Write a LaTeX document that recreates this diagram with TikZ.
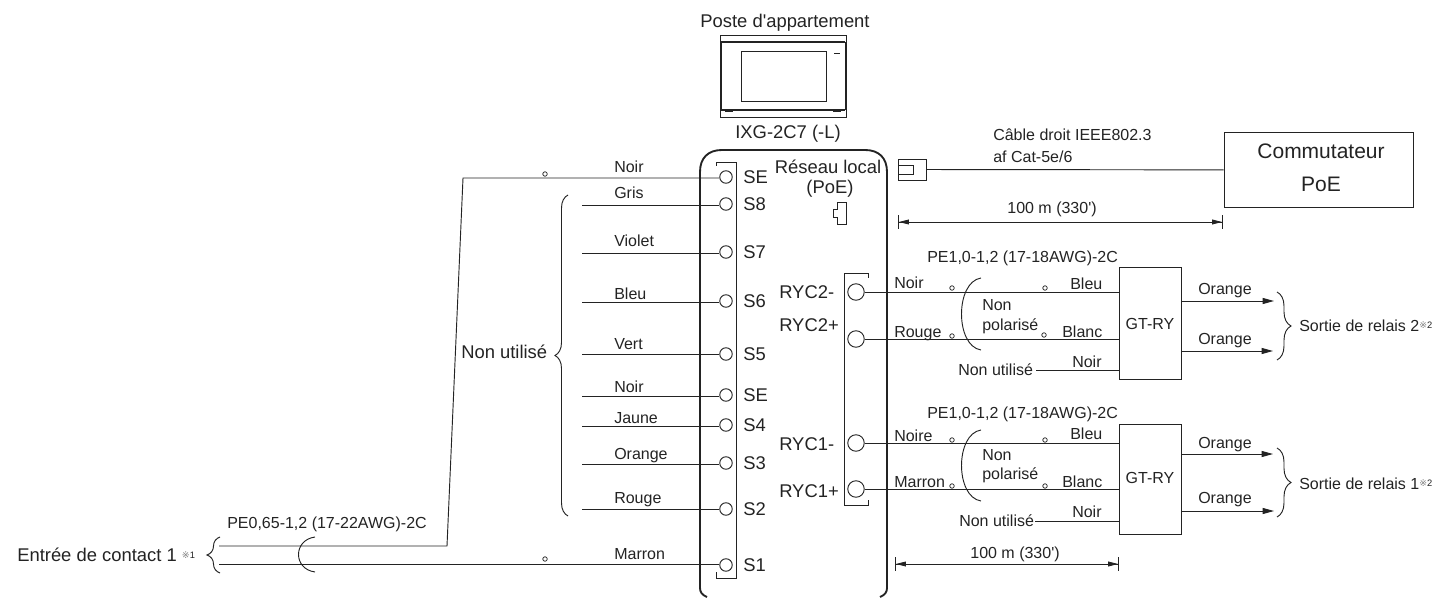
\documentclass[tikz,border=0pt]{standalone}
\usepackage{fontspec}
\setmainfont{Liberation Sans}[Ligatures=TeXOff]
\newfontfamily\markfont{DejaVu Sans}
\usetikzlibrary{arrows.meta, decorations.pathreplacing}
\definecolor{wireink}{RGB}{35, 35, 35}
\definecolor{textink}{RGB}{35, 35, 35}
\newcommand{\noteref}[1]{\raisebox{2.5pt}{\fontsize{7}{8}\selectfont{\markfont\textcolor{gray}{※}}#1}}

\begin{document}
\begin{tikzpicture}[
    x=0.75pt, y=-0.75pt,
    wire/.style={draw=wireink, line width=0.7pt},
    lab/.style={font=\fontsize{12}{14}\selectfont, text=textink, inner sep=0pt, anchor=west, text height=8.6pt, text depth=0pt},
    biglab/.style={font=\fontsize{13.8}{16}\selectfont, text=textink, inner sep=0pt, anchor=west, text height=9.9pt, text depth=0pt},
    midlab/.style={lab, anchor=center},
    bigmid/.style={biglab, anchor=center},
    term/.style={circle, draw=wireink, line width=0.7pt, minimum size=12.5*0.75pt, inner sep=0pt},
    bigterm/.style={term, minimum size=16.5*0.75pt},
    dot/.style={circle, draw=wireink, line width=0.55pt, minimum size=4.5*0.75pt, inner sep=0pt},
    relaybox/.style={rectangle, draw=wireink, line width=0.7pt, minimum width=62*0.75pt, inner sep=0pt},
    bracegroup/.style={draw=wireink, line width=0.7pt, decorate, decoration={brace, amplitude=#1}},
    dimline/.style={{Bar[width=10pt]Stealth[length=7.5pt,width=3.6pt,inset=0pt]}-{Stealth[length=7.5pt,width=3.6pt,inset=0pt]Bar[width=10pt]}, draw=wireink, line width=0.6pt},
    outarrow/.style={-{Stealth[length=8.5pt,width=4.5pt,inset=0pt]}, wire}
]
    \useasboundingbox (0,0) rectangle (1437,598);

    % Apartment station
    \node[bigmid] (stationname) at (785,21) {Poste d'appartement};
    \draw[draw=wireink, line width=0.6pt] (720,35) rectangle (846,117);
    \draw[draw=wireink, line width=1.1pt] (721,42) -- (845,42);
    \draw[draw=wireink, line width=1.3pt] (721,110) -- (845,110);
    \draw[draw=wireink, line width=0.7pt] (721,42) -- (721,110) (845,42) -- (845,110);
    \draw[draw=wireink, line width=0.7pt] (741,51) rectangle (826,101);
    \draw[draw=wireink, line width=0.9pt] (834,53.5) -- (840,53.5);
    \draw[draw=wireink, line width=0.9pt] (725,111) -- (733,111) (833,111) -- (841,111);
    \node[bigmid] (stationmodel) at (788,132) {IXG-2C7 (-L)};

    % Panel outline, open at the bottom
    \draw[draw=wireink, line width=1.4pt] (707,597) .. controls (702,595) and (700,592) .. (700,588)
        -- (700,172) .. controls (700,158) and (708,150) .. (722,150) -- (865,150)
        .. controls (879,150) and (887,158) .. (887,172) -- (887,588)
        .. controls (887,592) and (885,595) .. (880,597);

    % Terminal strip
    \draw[draw=wireink, line width=0.7pt] (716,166) -- (716,162) -- (736,162) -- (736,578) -- (716,578) -- (716,572);
    \foreach \id/\yy/\ly/\wname/\tname in {
        a/177/167/Noir/SE, b/204/193/Gris/S8, c/252/241/Violet/S7, d/301/294/Bleu/S6,
        e/354/344/Vert/S5, f/395/387/Noir/SE, g/425/418/Jaune/S4, h/463/454/Orange/S3,
        i/509/498/Rouge/S2, j/565/554/Marron/S1} {
        \node[term] (t\id) at (726,\yy) {};
        \node[biglab] (n\id) at (743,\yy) {\tname};
        \node[lab] (w\id) at (614,\ly) {\wname};
    }
    \foreach \id/\yy in {b/205, c/253, d/302, e/354, f/396, g/426, h/464, i/509} {
        \coordinate (s\id) at (582,\yy);
        \draw[wire] (s\id) -- (s\id -| t\id.west);
    }
    \draw[bracegroup=9.75pt] (568,516) -- (568,195);
    \node[biglab] (spare) at (461,352) {Non utilisé};

    % Contact input
    \node[biglab] (contact) at (17,555) {Entrée de contact 1 \noteref{1}};
    \draw[bracegroup=9.75pt] (220,573) -- (220,537);
    \node[lab] (inputcable) at (227,523) {PE0,65-1,2 (17-22AWG)-2C};
    \coordinate (inup) at (219,546);
    \coordinate (inknee) at (447,546);
    \coordinate (intop) at (463,178);
    \coordinate (indown) at (219,564);
    \draw[wire] (inup) -- (inknee) -- (intop) -- (ta.west |- intop);
    \draw[wire] (indown) -- (indown -| tj.west);
    \draw[wire] (315,537) .. controls (293,540) and (293,569) .. (315,572);
    \node[dot] (dotin1) at (545,174) {};
    \node[dot] (dotin2) at (545,559) {};

    % LAN side
    \node[bigmid] (lantext) at (828,167) {Réseau local};
    \node[bigmid] (lanpoe) at (830,187) {(PoE)};
    \draw[draw=wireink, line width=0.6pt] (846,202) -- (837,202) -- (837,209) -- (833,209) -- (833,217) -- (837,217) -- (837,224) -- (846,224) -- cycle;
    \node[rectangle, draw=wireink, line width=0.7pt, minimum width=28*0.75pt, minimum height=21*0.75pt, inner sep=0pt] (plug) at (912,169.5) {};
    \draw[draw=wireink, line width=0.7pt] (898,165) rectangle (913,174);
    \node[rectangle, draw=wireink, line width=0.7pt, minimum width=189*0.75pt, minimum height=75*0.75pt, inner sep=0pt] (poeswitch) at (1318.5,170) {};
    \node[rectangle, inner sep=0pt, font=\fontsize{15.75}{21}\selectfont, text=textink, align=center] (switchname) at (1321,168) {Commutateur\\[4pt]PoE};
    \draw[wire] (plug) -- (poeswitch);
    \node[lab] (lancable1) at (993,135) {Câble droit IEEE802.3};
    \node[lab] (lancable2) at (993,157) {af Cat-5e/6};
    \coordinate (landim1) at (898,222);
    \coordinate (landim2) at (1223,222);
    \draw[dimline] (landim1) -- (landim2);
    \node[midlab] (lanlen) at (1052,208) {100 m (330')};

    % Relay terminals
    \draw[draw=wireink, line width=0.7pt] (868,278) -- (868,273) -- (844,273) -- (844,505) -- (868,505) -- (868,500);
    \foreach \id/\yy/\ty/\tname in {rb/292/292/RYC2-, ra/339/325/RYC2+, qb/443/444/RYC1-, qa/489/491/RYC1+} {
        \node[bigterm] (\id) at (856,\yy) {};
        \node[biglab] (\id text) at (779,\ty) {\tname};
    }

    % Relay adapters
    \node[relaybox, minimum height=112*0.75pt] (gt2) at (1150,323) {};
    \node[relaybox, minimum height=110*0.75pt] (gt1) at (1150,479) {};
    \draw[wire] (rb.east) -- (rb.east -| gt2.west);
    \draw[wire] (ra.east) -- (ra.east -| gt2.west);
    \draw[wire] (qb.east) -- (qb.east -| gt1.west);
    \draw[wire] (qa.east) -- (qa.east -| gt1.west);

    % Upper relay labels
    \node[midlab] (gtname2) at (1150,324) {GT-RY};
    \node[lab] (cable2) at (927,257) {PE1,0-1,2 (17-18AWG)-2C};
    \node[lab] (u2a) at (894,283) {Noir};
    \node[lab] (u2b) at (894,332) {Rouge};
    \node[lab] (u2c) at (1070,284) {Bleu};
    \node[lab] (u2d) at (1062,332) {Blanc};
    \node[lab] (u2e) at (1072,362) {Noir};
    \node[lab] (u2f) at (982,305) {Non};
    \node[lab] (u2g) at (982,325) {polarisé};
    \node[lab] (u2h) at (958,370) {Non utilisé};
    \draw[wire] (u2h.east) ++(3,0) coordinate (u2i) -- (u2i -| gt2.west);
    \draw[wire] (981,278) .. controls (955,282) and (955,346) .. (981,350);
    \node[dot] (d2a) at (952,288) {};
    \node[dot] (d2b) at (1045,288) {};
    \node[dot] (d2c) at (952,336) {};
    \node[dot] (d2d) at (1044,335) {};
    \node[lab] (o2a) at (1198,289) {Orange};
    \node[lab] (o2b) at (1198,339) {Orange};
    \coordinate (e2a) at (1274,301);
    \coordinate (e2b) at (1273,351);
    \draw[outarrow] (e2a -| gt2.east) -- (e2a);
    \draw[outarrow] (e2b -| gt2.east) -- (e2b);
    \draw[bracegroup=10.5pt] (1277,292) -- (1277,360);
    \node[lab] (out2) at (1299,326) {Sortie de relais 2\noteref{2}};

    % Lower relay labels
    \node[midlab] (gtname1) at (1150,478) {GT-RY};
    \node[lab] (cable1) at (927,413) {PE1,0-1,2 (17-18AWG)-2C};
    \node[lab] (u1a) at (894,436) {Noire};
    \node[lab] (u1b) at (894,482) {Marron};
    \node[lab] (u1c) at (1070,434) {Bleu};
    \node[lab] (u1d) at (1062,482) {Blanc};
    \node[lab] (u1e) at (1072,512) {Noir};
    \node[lab] (u1f) at (982,455) {Non};
    \node[lab] (u1g) at (982,474) {polarisé};
    \node[lab] (u1h) at (959,521) {Non utilisé};
    \draw[wire] (u1h.east) ++(1,0) coordinate (u1i) -- (u1i -| gt1.west);
    \draw[wire] (981,430) .. controls (955,434) and (955,497) .. (981,501);
    \node[dot] (d1a) at (952,440) {};
    \node[dot] (d1b) at (1045,440) {};
    \node[dot] (d1c) at (952,486) {};
    \node[dot] (d1d) at (1045,486) {};
    \node[lab] (o1a) at (1198,443) {Orange};
    \node[lab] (o1b) at (1198,498) {Orange};
    \coordinate (e1a) at (1273,454);
    \coordinate (e1b) at (1274,511);
    \draw[outarrow] (e1a -| gt1.east) -- (e1a);
    \draw[outarrow] (e1b -| gt1.east) -- (e1b);
    \draw[bracegroup=10.5pt] (1277,448) -- (1277,517);
    \node[lab] (out1) at (1299,484) {Sortie de relais 1\noteref{2}};

    % Relay length
    \coordinate (rydim1) at (895,564);
    \coordinate (rydim2) at (1119,564);
    \draw[dimline] (rydim1) -- (rydim2);
    \node[midlab] (rylen) at (1015,553) {100 m (330')};
\end{tikzpicture}
\end{document}
